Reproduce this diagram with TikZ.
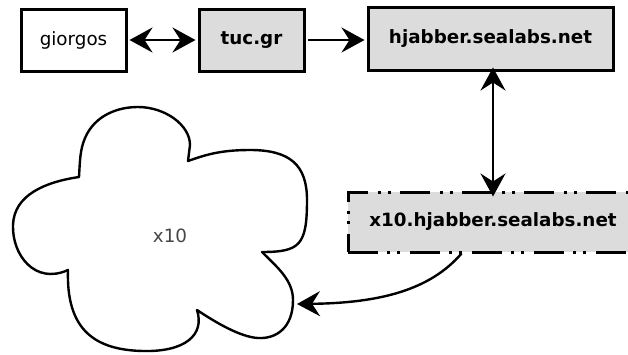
\documentclass[tikz,border=0pt]{standalone}
\usepackage{fontspec}
\setmainfont{DejaVu Sans}
\usetikzlibrary{arrows.meta}
\definecolor{boxfill}{RGB}{220,220,220}
\definecolor{labelgray}{RGB}{70,70,70}
\tikzset{
  server/.style={draw=black, line width=3pt, fill=boxfill, rectangle,
    inner sep=0pt, font=\fontsize{18.3}{20}\selectfont\bfseries},
  client/.style={draw=black, line width=3pt, fill=white, rectangle,
    inner sep=0pt, font=\fontsize{18.3}{20}\selectfont},
  dashdotdot/.style={dash pattern=on 30pt off 9pt on 3pt off 7pt on 3pt off 10pt},
  tip/.tip={Stealth[length=23pt,width=25pt,inset=8pt]},
  link/.style={line width=2.4pt, -tip},
  biglink/.style={line width=2.4pt, tip-tip},
  cloudline/.style={draw=black, line width=2.4pt, line join=round}
}
\begin{document}
\begin{tikzpicture}[x=1pt,y=-1pt]
  \useasboundingbox (0,0) rectangle (628,354);

  % top row
  \node[client, minimum width=105pt, minimum height=62pt] (giorgos) at (73.5,40) {giorgos};
  \node[server, minimum width=105pt, minimum height=62pt] (tuc) at (251.5,40) {tuc.gr};
  \node[server, minimum width=245pt, minimum height=63pt] (hj) at (490.5,38.5) {hjabber.sealabs.net};

  % sub-domain component (runs off the right edge)
  \node[server, dashdotdot, minimum width=290pt, minimum height=60pt] (xten) at (493,222) {x10.hjabber.sealabs.net};

  % the x10 cloud, lobe by lobe
  \draw[cloudline]
    (79,177) .. controls (80,160) and (80,150) .. (85,138)
    .. controls (95,115) and (118,107) .. (138,107)
    .. controls (165,107) and (190,125) .. (190,145)
    -- (188,161)
    .. controls (205,155) and (220,150) .. (250,150)
    .. controls (290,150) and (307,165) .. (307,200)
    .. controls (307,245) and (300,252) .. (262,252)
    .. controls (277,267) and (293,280) .. (293,300)
    .. controls (293,328) and (276,339) .. (258,338)
    .. controls (240,337) and (215,322) .. (197,310)
    .. controls (205,335) and (185,352) .. (143,351)
    .. controls (95,350) and (66,330) .. (68,270)
    .. controls (35,285) and (12,255) .. (13,225)
    .. controls (14,195) and (45,182) .. cycle;
  \node[font=\fontsize{18.3}{20}\selectfont, text=labelgray] (cloudlabel) at (170,236) {x10};

  % connections
  \draw[biglink] ([xshift=2pt]giorgos.east) -- ([xshift=-2pt]tuc.east -| tuc.west);
  \draw[link] ([xshift=2pt]tuc.east) -- ([xshift=-2pt,yshift=-1.5pt]hj.west);
  \draw[biglink] ([xshift=2.5pt,yshift=4pt]hj.south) -- ([yshift=-6pt]xten.north);
  \coordinate (cloudedge) at (297,304);
  \draw[link] ([xshift=115pt]xten.south west) .. controls (430,290) and (380,303) .. (cloudedge);
\end{tikzpicture}
\end{document}
